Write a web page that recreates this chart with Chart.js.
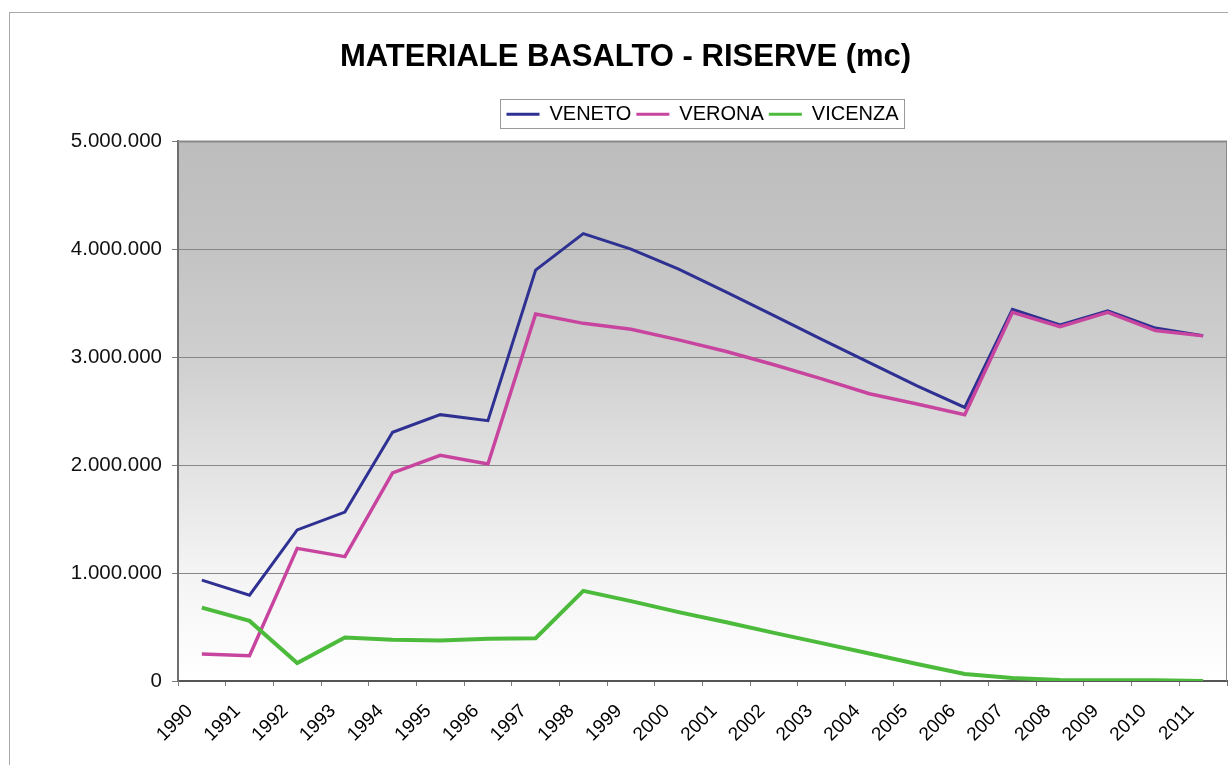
<!DOCTYPE html>
<html>
<head>
<meta charset="utf-8">
<title>Materiale basalto - riserve</title>
<script src="https://cdn.jsdelivr.net/npm/chart.js@4.4.1/dist/chart.umd.min.js"></script>
<style>
  html, body { margin: 0; padding: 0; background: #ffffff; }
  canvas { display: block; }
</style>
</head>
<body>
<canvas id="graficoRiserve" width="1228" height="765"></canvas>
<script>
// --------------- Dati ------------------
const anni = ["1990", "1991", "1992", "1993", "1994", "1995", "1996", "1997", "1998", "1999", "2000",
  "2001", "2002", "2003", "2004", "2005", "2006", "2007", "2008", "2009", "2010", "2011"];

const veneto = [935000, 795000, 1400000, 1565000, 2305000, 2468000, 2412000, 3808000, 4146000, 4002000, 3817000,
  3604000, 3385000, 3166000, 2951000, 2735000, 2535000, 3444000, 3300000, 3430000, 3270000, 3200000];

const verona = [250000, 234000, 1229000, 1152000, 1928000, 2091000, 2011000, 3401000, 3314000, 3259000, 3161000,
  3053000, 2930000, 2800000, 2662000, 2566000, 2467000, 3416000, 3284000, 3416000, 3247000, 3198000];

const vicenza = [680000, 557000, 166000, 403000, 382000, 375000, 391000, 397000, 835000, 740000, 638000,
  545000, 446000, 351000, 255000, 157000, 65000, 28000, 10000, 8000, 6000, 0];

const FONT = "'Liberation Sans', Arial, Helvetica, sans-serif";

function formattaNumero(v) {
  return String(v).replace(/\B(?=(\d{3})+(?!\d))/g, ".");
}

// sfondo sfumato dell'area del grafico e bordo esterno
const sfondoPlot = {
  id: "sfondoPlot",
  beforeDraw(chart) {
    const { ctx, chartArea: a } = chart;
    ctx.save();
    ctx.strokeStyle = "#a8a8a8";
    ctx.lineWidth = 1;
    ctx.strokeRect(9.5, 12.5, 1400, 900);

    const g = ctx.createLinearGradient(0, a.top, 0, a.bottom);
    g.addColorStop(0, "#bdbdbd");
    g.addColorStop(0.2, "#c3c3c3");
    g.addColorStop(0.4, "#cfcfcf");
    g.addColorStop(0.6, "#e2e2e2");
    g.addColorStop(0.8, "#f4f4f4");
    g.addColorStop(1, "#ffffff");
    ctx.fillStyle = g;
    ctx.fillRect(a.left, a.top, a.right - a.left, a.bottom - a.top);
    ctx.restore();
  },
  beforeDatasetsDraw(chart) {
    const { ctx, chartArea: a } = chart;
    ctx.save();
    ctx.strokeStyle = "#8a8a8a";
    ctx.lineWidth = 2;
    ctx.beginPath();
    ctx.moveTo(a.left, a.top);
    ctx.lineTo(a.right, a.top);
    ctx.stroke();
    ctx.lineWidth = 1;
    ctx.beginPath();
    ctx.moveTo(a.right - 0.5, a.top);
    ctx.lineTo(a.right - 0.5, a.bottom);
    ctx.stroke();
    ctx.restore();
  },
  afterDraw(chart) {
    // cornice della legenda
    const boxes = chart.legend.legendHitBoxes;
    if (!boxes || !boxes.length) return;
    const sinistra = Math.min(...boxes.map((b) => b.left)) - 6;
    const destra = Math.max(...boxes.map((b) => b.left + b.width)) + 6;
    const centro = boxes[0].top + boxes[0].height / 2;
    const { ctx } = chart;
    ctx.save();
    ctx.strokeStyle = "#9a9a9a";
    ctx.lineWidth = 1;
    ctx.strokeRect(Math.round(sinistra) + 0.5, Math.round(centro - 15) + 0.5,
      Math.round(destra - sinistra), 29);
    ctx.restore();
  },
};

const ctx = document.getElementById("graficoRiserve").getContext("2d");

new Chart(ctx, {
  type: "line",
  data: {
    labels: anni,
    datasets: [
      {
        label: "VENETO",
        data: veneto,
        borderColor: "#2e3192",
        backgroundColor: "#2e3192",
        borderWidth: 3,
        pointRadius: 0,
        tension: 0,
        order: 2,
      },
      {
        label: "VERONA",
        data: verona,
        borderColor: "#c8459f",
        backgroundColor: "#c8459f",
        borderWidth: 3.5,
        pointRadius: 0,
        tension: 0,
        order: 1,
      },
      {
        label: "VICENZA",
        data: vicenza,
        borderColor: "#4cbb3c",
        backgroundColor: "#4cbb3c",
        borderWidth: 4,
        pointRadius: 0,
        tension: 0,
        order: 0,
      },
    ],
  },
  options: {
    responsive: false,
    animation: false,
    layout: {
      padding: { top: 12, left: 24, right: 1, bottom: 0 },
    },
    plugins: {
      tooltip: { enabled: false },
      title: {
        display: true,
        text: "MATERIALE BASALTO - RISERVE (mc)",
        color: "#000000",
        font: { family: FONT, size: 31, weight: "bold" },
        padding: { top: 27, bottom: 23 },
      },
      subtitle: {
        display: true,
        text: "",
        font: { size: 1 },
        padding: { top: 0, bottom: 6 },
      },
      legend: {
        position: "top",
        fullSize: false,
        weight: 1600,
        labels: {
          color: "#000000",
          font: { family: FONT, size: 20 },
          boxWidth: 33,
          boxHeight: 3,
          padding: 5,
          sort: (a, b) => a.datasetIndex - b.datasetIndex,
          generateLabels(chart) {
            const items = Chart.defaults.plugins.legend.labels.generateLabels(chart);
            return items.map((it) => {
              it.fillStyle = it.strokeStyle;
              it.lineWidth = 0;
              return it;
            });
          },
        },
      },
    },
    scales: {
      x: {
        offset: true,
        grid: {
          offset: true,
          drawOnChartArea: false,
          drawTicks: true,
          tickLength: 5,
          tickColor: "#7a7a7a",
        },
        border: { display: true, color: "#555555", width: 2 },
        ticks: {
          color: "#000000",
          font: { family: FONT, size: 19 },
          autoSkip: false,
          minRotation: 45,
          maxRotation: 45,
          padding: 14,
          labelOffset: -12,
        },
        afterFit(scale) {
          scale.height = 84;
          scale.paddingLeft = 0;
          scale.paddingRight = 0;
        },
      },
      y: {
        min: 0,
        max: 5000000,
        grid: {
          color: "#878787",
          lineWidth: 1,
          tickLength: 6,
          tickColor: "#7a7a7a",
        },
        border: { display: true, color: "#6e6e6e", width: 2 },
        ticks: {
          stepSize: 1000000,
          color: "#111111",
          font: { family: FONT, size: 20.5 },
          padding: 10,
          callback: (v) => formattaNumero(v),
        },
        afterFit(scale) {
          scale.width = 154;
        },
      },
    },
  },
  plugins: [sfondoPlot],
});
</script>
</body>
</html>
